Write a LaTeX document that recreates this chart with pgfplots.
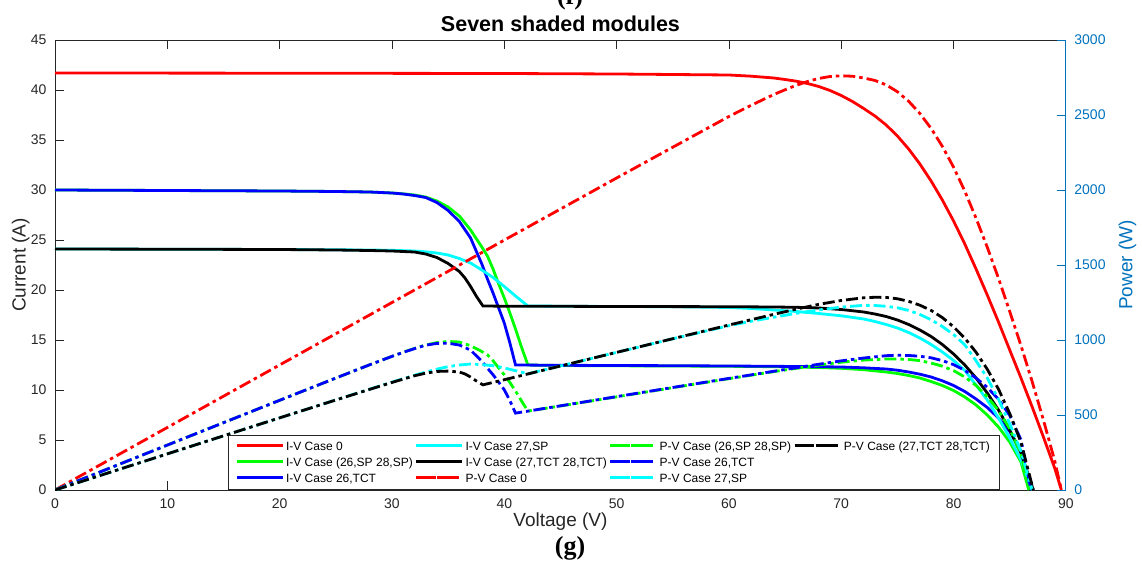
\documentclass[border=0pt]{standalone}
\usepackage{pgfplots}
\pgfplotsset{compat=1.18}
\usepackage{pgfplotstable}
\usepackage{fontspec}
\setmainfont{Liberation Sans}
\newfontfamily\panelfont{Liberation Serif}

\definecolor{axgray}{rgb}{0.15,0.15,0.15}
\definecolor{pblue}{rgb}{0,0.447,0.741}
\definecolor{mred}{rgb}{1,0,0}
\definecolor{mgreen}{rgb}{0,1,0}
\definecolor{mblue}{rgb}{0,0,1}
\definecolor{mcyan}{rgb}{0,1,1}

\tikzset{
  iv/.style={line width=2.8pt, solid},
  pv/.style={line width=2.8pt, dash pattern=on 12pt off 4pt on 3.5pt off 4pt},
}

% ---------- I-V curves (V in volts, I in amperes) ----------
\pgfplotstableread{
V I
0 41.70
20 41.68
40 41.65
50 41.60
55 41.55
60 41.50
62 41.38
64 41.20
65 41.05
66 40.88
67 40.65
68 40.35
69 39.95
70 39.45
71 38.85
72 38.15
73 37.40
74 36.50
75 35.40
76 34.10
77 32.60
78 30.90
79 29.00
80 26.90
81 24.60
82 22.10
83 19.50
84 16.80
85 14.00
86 11.20
87 8.30
88 5.30
89 2.20
89.6 0
}\ivzero

\pgfplotstableread{
V I
0 30.00
10 29.95
20 29.90
25 29.85
28 29.80
30 29.70
31 29.62
32 29.50
33 29.30
34 28.90
35 28.30
36 27.40
37 26.00
38 24.30
38.5 23.40
39 22.10
39.5 20.60
40 19.20
40.5 17.70
41 16.10
41.5 14.40
42.1 12.50
45 12.45
50 12.42
55 12.40
60 12.37
64 12.33
68 12.25
70 12.17
72 12.03
74 11.80
75 11.65
76 11.45
77 11.20
78 10.85
79 10.45
80 9.95
81 9.30
82 8.50
83 7.50
84 6.30
85 4.80
86 2.80
86.7 0
}\ivsp

\pgfplotstableread{
V I
0 30.00
10 29.95
20 29.90
25 29.85
28 29.80
30 29.70
31 29.60
32 29.45
33 29.25
34 28.75
35 27.95
36 26.85
37 25.20
38 22.60
38.5 21.10
39 19.70
39.5 18.20
40 16.70
40.5 14.70
41 12.50
45 12.47
50 12.45
55 12.43
60 12.40
64 12.37
68 12.33
70 12.30
72 12.22
74 12.10
75 11.98
76 11.80
77 11.58
78 11.30
79 10.92
80 10.45
81 9.85
82 9.10
83 8.25
84 7.20
85 5.85
86 3.90
86.9 0
}\ivtct

\pgfplotstableread{
V I
0 24.10
10 24.08
20 24.05
25 24.02
28 24.00
30 23.97
32 23.90
33 23.82
34 23.70
35 23.50
36 23.15
37 22.70
38 22.00
39 21.25
40 20.35
41 19.40
42.1 18.40
45 18.38
50 18.35
55 18.33
60 18.25
62 18.15
64 18.00
66 17.85
68 17.65
70 17.42
72 17.10
73 16.85
74 16.55
75 16.20
76 15.75
77 15.20
78 14.55
79 13.80
80 12.95
81 11.95
82 10.50
83 9.00
84 7.20
85 5.20
86 3.00
87 0
}\ivsptwo

\pgfplotstableread{
V I
0 24.10
10 24.08
20 24.05
25 24.00
28 23.95
30 23.90
32 23.80
33 23.60
34 23.25
35 22.65
36 21.85
36.5 21.20
37 20.35
37.5 19.40
38.1 18.40
40 18.38
45 18.37
50 18.35
55 18.34
60 18.33
64 18.30
66 18.27
68 18.20
70 18.05
72 17.80
73 17.60
74 17.35
75 17.00
76 16.55
77 16.00
78 15.35
79 14.55
80 13.60
81 12.50
82 11.20
83 9.70
84 8.00
85 6.00
86 3.70
87.1 0
}\ivtcttwo

% ---------- P-V curves (V in volts, P in watts) ----------
\pgfplotstableread{
V P
0 0
20 833.6
40 1666
50 2080
55 2285.25
60 2490
62 2565.56
64 2636.8
65 2668.25
66 2698.08
67 2723.55
68 2743.8
69 2756.55
70 2761.5
71 2758.35
72 2746.8
73 2730.2
74 2701
75 2655
76 2591.6
77 2510.2
78 2410.2
79 2291
80 2152
81 1992.6
82 1812.2
83 1618.5
84 1411.2
85 1190
86 963.2
87 722.1
88 466.4
89 195.8
89.6 0
}\pvzero

\pgfplotstableread{
V P
0 0
10 299.5
20 598
25 746.25
28 834.4
30 891
31 918.22
32 944
33 966.9
34 982.6
35 990.5
36 986.4
37 962
38 923.4
38.5 900.9
39 861.9
39.5 813.7
40 768
40.5 716.85
41 660.1
41.5 597.6
42.1 526.25
45 560.25
50 621
55 682
60 742.2
64 789.12
68 833
70 851.9
72 866.16
74 873.2
75 873.75
76 870.2
77 862.4
78 846.3
79 825.55
80 796
81 753.3
82 697
83 622.5
84 529.2
85 408
86 240.8
86.7 0
}\pvsp

\pgfplotstableread{
V P
0 0
10 299.5
20 598
25 746.25
28 834.4
30 891
31 917.6
32 942.4
33 965.25
34 977.5
35 978.25
36 966.6
37 932.4
38 858.8
38.5 812.35
39 768.3
39.5 718.9
40 668
40.5 595.35
41 512.5
45 561.15
50 622.5
55 683.65
60 744
64 791.68
68 838.44
70 861
72 879.84
74 895.4
75 898.5
76 896.8
77 891.66
78 881.4
79 862.68
80 836
81 797.85
82 746.2
83 684.75
84 604.8
85 497.25
86 335.4
86.9 0
}\pvtct

\pgfplotstableread{
V P
0 0
10 240.8
20 481
25 600.5
28 672
30 719.1
32 764.8
33 786.06
34 805.8
35 822.5
36 833.4
37 839.9
38 836
39 828.75
40 814
41 795.4
42.1 774.64
45 827.1
50 917.5
55 1008.15
60 1095
62 1125.3
64 1152
66 1178.1
68 1200.2
70 1219.4
72 1231.2
73 1230.05
74 1224.7
75 1215
76 1197
77 1170.4
78 1134.9
79 1090.2
80 1036
81 967.95
82 861
83 747
84 604.8
85 442
86 258
87 0
}\pvsptwo

\pgfplotstableread{
V P
0 0
10 240.8
20 481
25 600
28 670.6
30 717
32 761.6
33 778.8
34 790.5
35 792.75
36 786.6
36.5 773.8
37 752.95
37.5 727.5
38.1 701.04
40 735.2
45 826.65
50 917.5
55 1008.7
60 1099.8
64 1171.2
66 1205.82
68 1237.6
70 1263.5
72 1281.6
73 1284.8
74 1283.9
75 1275
76 1257.8
77 1232
78 1197.3
79 1149.45
80 1088
81 1012.5
82 918.4
83 805.1
84 672
85 510
86 318.2
87.1 0
}\pvtcttwo

\begin{document}
\begin{tikzpicture}
\useasboundingbox (-55pt,-84pt) rectangle (1087pt,490pt);
\pgfplotsset{
  base/.style={
    scale only axis, width=1011pt, height=450pt,
    xmin=0, xmax=90,
    tick align=inside,
    major tick length=9pt,
    every tick label/.append style={font=\fontsize{14}{16}\selectfont},
    /pgf/number format/assume math mode=true,
    /pgf/number format/1000 sep={},
    scaled ticks=false,
  },
}

% left axis: current
\begin{axis}[base,
  ymin=0, ymax=45,
  xtick={0,10,...,90}, ytick={0,5,...,45},
  xtick pos=both, ytick pos=left,
  axis line style={axgray, line width=0.8pt},
  tick style={axgray, line width=0.8pt},
  ticklabel style={axgray},
  xticklabel style={yshift=-5pt},
  yticklabel style={xshift=-5pt},
  xlabel={Voltage (V)},
  xlabel style={at={(axis description cs:0.5,-0.071)}, anchor=center,
    font=\fontsize{19}{21}\selectfont, color=axgray},
  ylabel={Current (A)},
  ylabel style={at={(axis description cs:-0.034,0.5)}, anchor=center,
    font=\fontsize{19}{21}\selectfont, color=axgray},
  title={Seven shaded modules},
  title style={at={(axis description cs:0.5,1.023)}, anchor=center,
    font=\bfseries\fontsize{21.5}{24}\selectfont},
]
\addplot[iv, mred, forget plot] table[x=V, y=I] {\ivzero};
\addplot[iv, mgreen, forget plot] table[x=V, y=I] {\ivsp};
\addplot[iv, mblue, forget plot] table[x=V, y=I] {\ivtct};
\addplot[iv, mcyan, forget plot] table[x=V, y=I] {\ivsptwo};
\addplot[iv, black, forget plot] table[x=V, y=I] {\ivtcttwo};
\end{axis}

% right axis: power
\begin{axis}[base,
  ymin=0, ymax=3000,
  ytick={0,500,...,3000},
  axis x line=none, axis y line*=right,
  y axis line style={pblue, line width=0.8pt},
  ytick style={pblue, line width=0.8pt},
  yticklabel style={pblue, xshift=5pt},
  ylabel={Power (W)},
  ylabel style={at={(axis description cs:1.061,0.5)}, anchor=center,
    font=\fontsize{19}{21}\selectfont, color=pblue},
  legend columns=4,
  legend cell align=left,
  legend image code/.code={
    \path (-5pt,0pt) -- (41pt,0pt);
    \draw[#1] (0pt,0pt) -- (39pt,0pt);
  },
  legend style={at={(axis description cs:0.1711,0.002)}, anchor=south west,
    draw=axgray, line width=0.6pt, fill=white,
    inner xsep=7pt, inner ysep=3pt,
    font=\fontsize{12}{14}\selectfont,
    nodes={inner sep=2pt, text height=11pt, text depth=1pt},
    /tikz/every even column/.append style={column sep=0pt},
    row sep=0pt},
]
\addplot[pv, mred, forget plot] table[x=V, y=P] {\pvzero};
\addplot[pv, mgreen, forget plot] table[x=V, y=P] {\pvsp};
\addplot[pv, mblue, forget plot] table[x=V, y=P] {\pvtct};
\addplot[pv, mcyan, forget plot] table[x=V, y=P] {\pvsptwo};
\addplot[pv, black, forget plot] table[x=V, y=P] {\pvtcttwo};

% legend, filled row by row
\addlegendimage{iv, mred}\addlegendentry{I-V Case 0}
\addlegendimage{iv, mcyan}\addlegendentry{I-V Case 27,SP}
\addlegendimage{pv, mgreen}\addlegendentry{P-V Case (26,SP 28,SP)}
\addlegendimage{pv, black}\addlegendentry{P-V Case (27,TCT 28,TCT)}
\addlegendimage{iv, mgreen}\addlegendentry{I-V Case (26,SP 28,SP)}
\addlegendimage{iv, black}\addlegendentry{I-V Case (27,TCT 28,TCT)}
\addlegendimage{pv, mblue}\addlegendentry{P-V Case 26,TCT}
\addlegendimage{empty legend}\addlegendentry{}
\addlegendimage{iv, mblue}\addlegendentry{I-V Case 26,TCT}
\addlegendimage{pv, mred}\addlegendentry{P-V Case 0}
\addlegendimage{pv, mcyan}\addlegendentry{P-V Case 27,SP}
\end{axis}

\node[font=\panelfont\bfseries\fontsize{26}{28}\selectfont, anchor=base] at (515pt,485.5pt) {(f)};
\node[font=\panelfont\bfseries\fontsize{26}{28}\selectfont, anchor=base] at (515pt,-64pt) {(g)};
\end{tikzpicture}
\end{document}
